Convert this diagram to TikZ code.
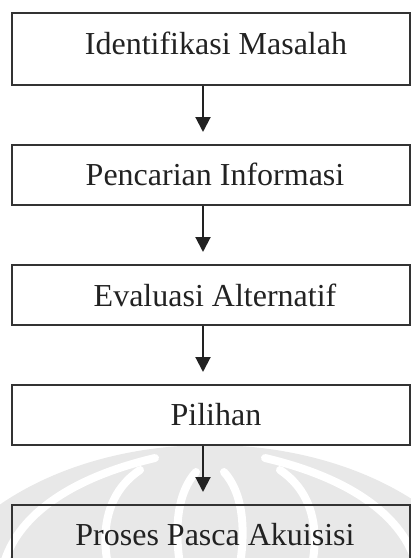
\documentclass[tikz,border=0pt]{standalone}
\usepackage{fontspec}
\setmainfont{Liberation Serif}
\usetikzlibrary{arrows.meta}
\definecolor{ink}{HTML}{222222}
\definecolor{frame}{HTML}{333333}
\definecolor{emblem}{HTML}{E8E8E8}
\tikzset{
  stepbox/.style={draw=frame, line width=2pt, rectangle, minimum width=398pt, inner sep=0pt},
  steptext/.style={anchor=base, inner sep=0pt, text=ink, font=\fontsize{32}{38}\selectfont},
  flow/.style={draw=ink, line width=2pt, -{Triangle[length=15pt, width=15pt]}},
  slit/.style={draw=white, line width=8pt, line cap=round}
}
\begin{document}
\begin{tikzpicture}[x=1pt, y=-1pt]
\useasboundingbox (0,0) rectangle (411,558);
\clip (0,0) rectangle (411,558);

% faint emblem in the background
\fill[emblem] (210,640) ellipse [x radius=292pt, y radius=195pt];
\foreach \s in {1,-1}{
  \begin{scope}[shift={(210,0)}, xscale=\s]
    \draw[slit] (-205,560) .. controls (-190,515) and (-140,478) .. (-55,458);
    \draw[slit] (-102,565) .. controls (-110,525) and (-100,490) .. (-70,470);
    \draw[slit] (-30,565) .. controls (-36,525) and (-32,492) .. (-14,472);
  \end{scope}
}

% process steps
\node[stepbox, minimum height=72pt] (b1) at (211,49) {};
\node[stepbox, minimum height=60pt] (b2) at (211,175) {};
\node[stepbox, minimum height=60pt] (b3) at (211,295) {};
\node[stepbox, minimum height=60pt] (b4) at (211,415) {};
\node[stepbox, minimum height=72pt] (b5) at (211,541) {};

\node[steptext] (t1) at (216,54) {Identifikasi Masalah};
\node[steptext] (t2) at (215,185) {Pencarian Informasi};
\node[steptext] (t3) at (215,306) {Evaluasi Alternatif};
\node[steptext] (t4) at (216,425) {Pilihan};
\node[steptext] (t5) at (215,545) {Proses Pasca Akuisisi};

% connectors
\coordinate (ax) at (203,0);
\foreach \a/\b in {b1/b2, b2/b3, b3/b4, b4/b5}{
  \draw[flow, shorten >=12pt] (\a.south -| ax) -- (\b.north -| ax);
}
\end{tikzpicture}
\end{document}
